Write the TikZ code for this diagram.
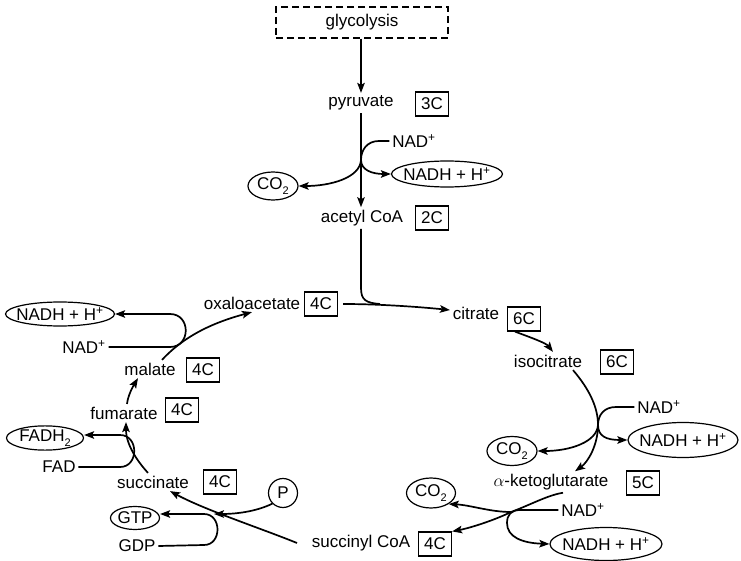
\documentclass[tikz,border=0pt]{standalone}
\usepackage{fontspec}
\setmainfont{Liberation Sans}
\usetikzlibrary{arrows.meta,shapes.geometric}
\newcommand\zw[1]{\makebox[0pt]{#1}}
\newcommand\lowtwo{\raisebox{-0.32em}{\fontsize{11}{11}\selectfont 2}}
\begin{document}
\begin{tikzpicture}[x=1pt,y=-1pt,
  font=\fontsize{17}{20}\selectfont,
  line width=1.7pt,
  arr/.style={-{Stealth[length=10pt,width=7.5pt,inset=2pt]}},
  lbl/.style={inner sep=2pt},
  cbox/.style={draw, line width=1.2pt, minimum width=33pt, minimum height=24pt, inner sep=0pt},
  oval/.style={draw, ellipse, line width=1.2pt, inner sep=0pt}]
\useasboundingbox (0,0) rectangle (741,561);

% nodes
\node[draw,dash pattern=on 7pt off 4pt,line width=1.2pt,minimum width=172pt,minimum height=31pt,inner sep=0pt] (glyc) at (362,22.5) {glycolysis};
\node[lbl] (pyr) at (361,103) {pyruvate};
\node[cbox] (c3) at (432,104) {3C};
\node[lbl] (nad1) at (414,141) {NAD\textsuperscript{+}};
\node[oval, minimum width=111pt, minimum height=26pt] (nadh1) at (447,174) {\zw{NADH + H\textsuperscript{+}}};
\node[oval, minimum width=50pt, minimum height=28pt] (co2a) at (273,186) {\zw{CO\lowtwo}};
\node[lbl] (acoa) at (362,218) {acetyl CoA};
\node[cbox] (c2) at (432,218) {2C};
\node[lbl] (oaa) at (252,303) {oxaloacetate};
\node[cbox] (oaac) at (321,304) {4C};
\node[lbl] (cit) at (476,313) {citrate};
\node[cbox] (cit6) at (524,319) {6C};
\node[lbl] (iso) at (548,361) {isocitrate};
\node[cbox] (iso6) at (617,362) {6C};
\node[lbl] (nad2) at (659,407) {NAD\textsuperscript{+}};
\node[oval, minimum width=110pt, minimum height=35pt] (nadh2) at (683,440) {\zw{NADH + H\textsuperscript{+}}};
\node[oval, minimum width=50pt, minimum height=29pt] (co2b) at (512,451) {\zw{CO\lowtwo}};
\node[lbl] (akg) at (551,482) {$\alpha$-ketoglutarate};
\node[cbox] (akg5) at (643,483) {5C};
\node[oval, minimum width=49pt, minimum height=30pt] (co2c) at (431,493) {\zw{CO\lowtwo}};
\node[lbl] (nad3) at (583,510) {NAD\textsuperscript{+}};
\node[oval, minimum width=112pt, minimum height=33pt] (nadh3) at (606,544) {\zw{NADH + H\textsuperscript{+}}};
\node[lbl] (scoa) at (361,543) {succinyl CoA};
\node[cbox] (sc4) at (435,544) {4C};
\node[oval, minimum width=109pt, minimum height=24pt] (nadh4) at (60,314) {\zw{NADH + H\textsuperscript{+}}};
\node[lbl] (nad4) at (84,347) {NAD\textsuperscript{+}};
\node[lbl] (mal) at (150,369) {malate};
\node[cbox] (mal4) at (203,370) {4C};
\node[lbl] (fum) at (124,413) {fumarate};
\node[cbox] (fum4) at (182,410) {4C};
\node[oval, minimum width=77pt, minimum height=24pt] (fadh) at (45,438) {\zw{FADH\lowtwo}};
\node[lbl] (fad) at (59,467) {FAD};
\node[lbl] (succ) at (153,482) {succinate};
\node[cbox] (succ4) at (220,482) {4C};
\node[draw, circle, minimum size=29pt, inner sep=0pt, line width=1.2pt] (pp) at (283,493) {P};
\node[oval, minimum width=49pt, minimum height=23pt] (gtp) at (135,518) {\zw{GTP}};
\node[lbl] (gdp) at (137,546) {GDP};

% junctions
\coordinate (j1) at (361,160);
\coordinate (j2) at (598,425);
\coordinate (j3) at (511,512);
\coordinate (jp) at (214,514);

% glycolysis -> pyruvate -> acetyl CoA
\draw[arr] (glyc.south -| pyr.north) -- (pyr.north);
\draw[arr] (pyr.south) -- (acoa.north -| pyr.south);
\draw[arr] (nad1.west) -- (379,141) .. controls (367,141) and (361,150) .. (j1) .. controls (361,170) and (372,174) .. (nadh1.west);
\draw[arr] (j1) .. controls (360,178) and (330,186) .. (co2a.east);

% acetyl CoA + oxaloacetate -> citrate
\draw (acoa.south -| pyr.south) -- (361,288) .. controls (361,300) and (366,303) .. (380,304);
\draw[arr,shorten <=5pt] (oaac.east) .. controls (380,304) and (420,307) .. ([yshift=3pt]cit.west);

% citrate -> isocitrate
\draw[arr] ([xshift=-9pt]cit6.south) .. controls (532,338) and (546,343) .. ([xshift=5pt]iso.north);

% isocitrate -> alpha-ketoglutarate
\draw[arr] ([xshift=25pt]iso.south) .. controls (590,390) and (598,408) .. (j2) .. controls (598,445) and (588,462) .. ([xshift=24pt]akg.north);
\draw[arr] (nad2.west) -- (616,407) .. controls (604,407) and (598,415) .. (j2) .. controls (598,436) and (606,440) .. (nadh2.west);
\draw[arr] (j2) .. controls (597,442) and (570,451) .. (co2b.east);

% alpha-ketoglutarate -> succinyl CoA
\draw[arr] ([xshift=12pt]akg.south) .. controls (548,495) and (530,505) .. (j3) .. controls (495,520) and (470,528) .. (sc4.north east);
\draw[arr] (nad3.west) -- (520,510) .. controls (511,510) and (507,515) .. (507,523) .. controls (507,537) and (522,543) .. (nadh3.west);
\draw[arr] (j3) .. controls (490,512) and (470,505) .. (co2c.south east);

% succinyl CoA -> succinate
\draw[arr] ([xshift=-12pt]scoa.west) .. controls (260,528) and (205,510) .. ([xshift=17pt]succ.south);
\draw[arr] (gdp.east) -- (204,545) .. controls (222,545) and (222,514) .. (204,514) -- ([yshift=4pt]gtp.east);
\draw[arr] (pp.south west) .. controls (255,512) and (235,514) .. (jp);

% succinate -> fumarate -> malate -> oxaloacetate
\draw[arr] (fad.east) -- (120,467) .. controls (139,467) and (139,435) .. (120,435) -- ([yshift=3pt]fadh.east);
\draw[arr] ([xshift=-5pt]succ.north) .. controls (138,462) and (126,445) .. ([xshift=2pt]fum.south);
\draw[arr] ([xshift=3pt]fum.north) .. controls (128,396) and (132,388) .. ([xshift=-12pt]mal.south);
\draw[arr] (nad4.east) -- (170,347) .. controls (191,347) and (191,314) .. (170,314) -- (nadh4.east);
\draw[arr] ([xshift=12pt]mal.north) .. controls (185,335) and (215,322) .. (oaa.south);
\end{tikzpicture}
\end{document}
